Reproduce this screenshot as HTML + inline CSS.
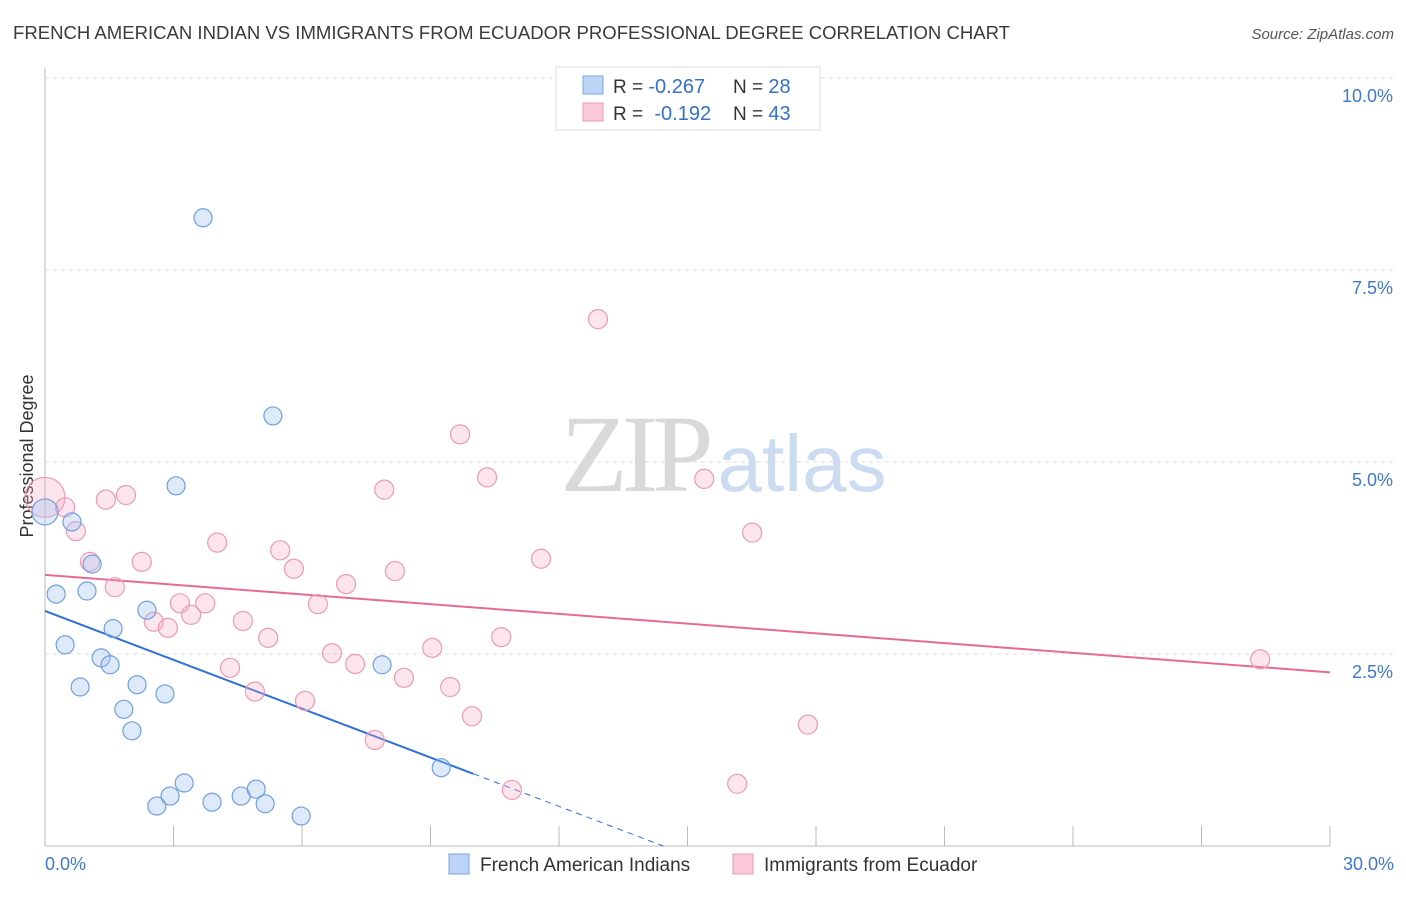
<!DOCTYPE html>
<html><head><meta charset="utf-8">
<style>
html,body{margin:0;padding:0;background:#fff;}
body{width:1406px;height:892px;overflow:hidden;font-family:"Liberation Sans",sans-serif;}
</style></head>
<body>
<svg id="chart" width="1406" height="892" xmlns="http://www.w3.org/2000/svg" style="font-family:'Liberation Sans',sans-serif">
<text x="13" y="39" font-size="18" fill="#3a3a3a" textLength="997" lengthAdjust="spacingAndGlyphs">FRENCH AMERICAN INDIAN VS IMMIGRANTS FROM ECUADOR PROFESSIONAL DEGREE CORRELATION CHART</text>
<text x="1394" y="39" font-size="15" fill="#555" font-style="italic" text-anchor="end">Source: ZipAtlas.com</text>
<text transform="translate(33,456) rotate(-90)" font-size="18" fill="#333" text-anchor="middle">Professional Degree</text>
<g id="grid"></g>
<g>
<text x="634" y="491" font-size="110" fill="#d9d9d9" text-anchor="middle" font-family="Liberation Serif,serif" letter-spacing="-6">ZIP</text>
<text x="802" y="491" font-size="80" fill="#cbdcf0" text-anchor="middle">atlas</text>
</g>
<g id="lines"></g>
<g id="points"></g>
<g>
<rect x="556" y="67" width="264" height="63" fill="#fff" stroke="#ddd"/>
<rect x="583" y="76" width="20" height="18" fill="#bcd4f5" stroke="#7aa6e6"/>
<rect x="583" y="103" width="20" height="18" fill="#f9c9d8" stroke="#ec9ab5"/>
<text x="613" y="93" font-size="19" fill="#333">R = <tspan fill="#3370cc" font-size="20">-0.267</tspan><tspan x="733">N = </tspan><tspan fill="#3370cc" font-size="20">28</tspan></text>
<text x="613" y="120" font-size="19" fill="#333">R = <tspan fill="#3370cc" dx="6" font-size="20">-0.192</tspan><tspan x="733">N = </tspan><tspan fill="#3370cc" font-size="20">43</tspan></text>
</g>
<g>
<rect x="449" y="854" width="20" height="20" fill="#bcd4f5" stroke="#7aa6e6"/>
<text x="480" y="871" font-size="19" fill="#333">French American Indians</text>
<rect x="733" y="854" width="20" height="20" fill="#f9c9d8" stroke="#ec9ab5"/>
<text x="764" y="871" font-size="19" fill="#333">Immigrants from Ecuador</text>
</g>
</svg>
<script>
const xTicks=[0,3,6,9,12,15,18,21,24,27,30];
const yTicks=[2.5,5.0,7.5,10.0];
const blueX=[0,0.26,0.63,0.98,1.10,0.47,0.82,1.31,1.52,1.59,2.15,1.84,2.03,2.38,2.80,3.06,3.69,5.32,2.61,2.92,3.25,3.90,4.58,4.93,5.14,5.98,7.87,9.25];
const blueY=[4.35,3.28,4.22,3.32,3.67,2.62,2.07,2.45,2.36,2.83,2.10,1.78,1.50,3.07,1.98,4.69,8.18,5.60,0.52,0.65,0.82,0.57,0.65,0.74,0.55,0.39,2.36,1.02];
const pinkX=[0,0.47,0.72,1.05,1.42,1.89,1.63,2.26,2.54,2.87,3.15,3.41,3.74,4.02,4.32,4.62,4.90,5.21,5.49,5.81,6.07,6.37,6.70,7.03,7.24,7.70,7.92,8.17,8.38,9.04,9.46,9.69,9.97,10.32,10.65,10.90,11.58,12.91,15.39,16.16,16.51,17.81,28.37];
const pinkY=[4.54,4.41,4.10,3.70,4.51,4.57,3.37,3.70,2.92,2.84,3.16,3.01,3.16,3.95,2.32,2.93,2.01,2.71,3.85,3.61,1.89,3.15,2.51,3.41,2.37,1.38,4.64,3.58,2.19,2.58,2.07,5.36,1.69,4.80,2.72,0.73,3.74,6.86,4.78,0.81,4.08,1.58,2.43];
const blueTrend=[3.06,-0.212];
const pinkTrend=[3.53,-0.0423];
const X=v=>45+v*(1285/30);
const Y=v=>846-v*76.8;
const NS="http://www.w3.org/2000/svg";
function mk(tag,attrs,parent){const e=document.createElementNS(NS,tag);for(const k in attrs)e.setAttribute(k,attrs[k]);parent.appendChild(e);return e;}
const grid=document.getElementById('grid');
const ax=mk('line',{x1:45,y1:68,x2:45,y2:846,stroke:'#bbb'},grid);


const bx=mk('line',{x1:45,y1:846,x2:1330,y2:846,stroke:'#bbb'},grid);


yTicks.forEach(t=>{
 const l=mk('line',{x1:45,y1:Y(t),x2:1394,y2:Y(t),stroke:'#ddd','stroke-dasharray':'4,4'},grid);
 
 
 const tx=mk('text',{x:1393,y:Y(t)+24,'font-size':18,fill:'#3f78d0','text-anchor':'end'},grid);
 tx.textContent=t.toFixed(1)+'%';
 
 
});
xTicks.forEach(t=>{
 const l=mk('line',{x1:X(t),y1:826,x2:X(t),y2:846,stroke:'#bbb'},grid);
 
 
});
[[0,'start',45],[30,'end',1394]].forEach(([t,a,x])=>{
 const tx=mk('text',{x:x,y:870,'font-size':18,fill:'#3f78d0','text-anchor':a},grid);
 tx.textContent=t.toFixed(1)+'%';
 
 
});
const lines=document.getElementById('lines');
const bl=mk('line',{x1:X(0),y1:Y(blueTrend[0]),x2:X(10),y2:Y(blueTrend[0]+blueTrend[1]*10),stroke:'#2f6fd6','stroke-width':2},lines);


const xEnd=-blueTrend[0]/blueTrend[1];
const bd=mk('line',{x1:X(10),y1:Y(blueTrend[0]+blueTrend[1]*10),x2:X(xEnd),y2:Y(0),stroke:'#2f6fd6','stroke-width':1,'stroke-dasharray':'6,5'},lines);


const pl=mk('line',{x1:X(0),y1:Y(pinkTrend[0]),x2:X(30),y2:Y(pinkTrend[0]+pinkTrend[1]*30),stroke:'#e56b94','stroke-width':2},lines);


const pts=document.getElementById('points');
pinkX.forEach((x,i)=>{
 const c=mk('circle',{cx:X(x),cy:Y(pinkY[i]),r:i===0?20:9.5,fill:'rgba(246,170,195,0.3)',stroke:'#eb9ab5','stroke-width':1.2},pts);
 
 
});
blueX.forEach((x,i)=>{
 const c=mk('circle',{cx:X(x),cy:Y(blueY[i]),r:i===0?13:9,fill:'rgba(160,195,240,0.35)',stroke:'#6f9fe3','stroke-width':1.2},pts);
 
 
});
</script>
</body></html>
